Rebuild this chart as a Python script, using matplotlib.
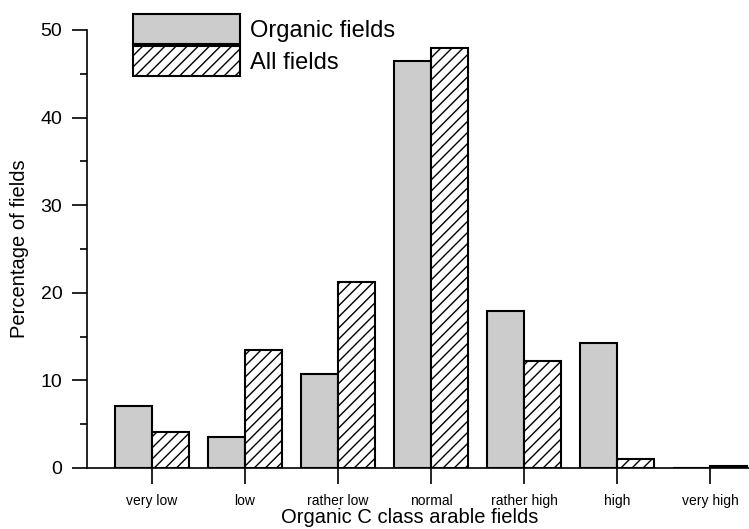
import numpy as np
import matplotlib.pyplot as plt

plt.rcParams['font.family'] = ['Liberation Sans', 'DejaVu Sans']
plt.rcParams['hatch.linewidth'] = 1.0

classes = ['very low', 'low', 'rather low', 'normal', 'rather high', 'high', 'very high']
organic = [7.1, 3.5, 10.7, 46.5, 17.9, 14.3, 0.0]
all_fields = [4.1, 13.5, 21.2, 47.9, 12.2, 1.0, 0.2]

x = np.arange(len(classes))
w = 0.4

fig = plt.figure(figsize=(7.49, 5.29), dpi=100)
ax = fig.add_axes([87 / 749, 61 / 529, 1 - 87 / 749, (468 - 30) / 529])

ax.bar(x - w / 2, organic, w, color='#cccccc', edgecolor='black', linewidth=1.5,
       label='Organic fields')
ax.bar(x + w / 2, all_fields, w, color='white', edgecolor='black', linewidth=1.5,
       hatch='///', label='All fields')

ax.set_xlim(-0.7, 6.42)
ax.set_ylim(0, 50)
ax.set_yticks([0, 10, 20, 30, 40, 50])
ax.set_yticks(np.arange(5, 50, 10), minor=True)
ax.set_xticks(x)
ax.set_xticklabels(classes, fontsize=10)

for s in ['top', 'right']:
    ax.spines[s].set_visible(False)
ax.spines['left'].set_linewidth(1.2)
ax.spines['bottom'].set_linewidth(1.2)

ax.tick_params(axis='y', which='major', length=10.8, width=1.2, labelsize=14, pad=7)
ax.tick_params(axis='y', which='minor', length=5, width=1.2)
ax.tick_params(axis='x', length=11.5, width=1.2, pad=7)

ax.set_ylabel('Percentage of fields', fontsize=14.5, labelpad=8)
ax.set_xlabel('Organic C class arable fields', fontsize=14.5)
ax.xaxis.set_label_coords(0.488, -0.092)

ax.legend(loc='upper left', bbox_to_anchor=(0.0695, 1.0365), frameon=False,
          fontsize=17, handlelength=4.53, handleheight=1.55, labelspacing=0.12,
          handletextpad=0.42, borderaxespad=0, borderpad=0)

fig.savefig('out.png', dpi=100)
